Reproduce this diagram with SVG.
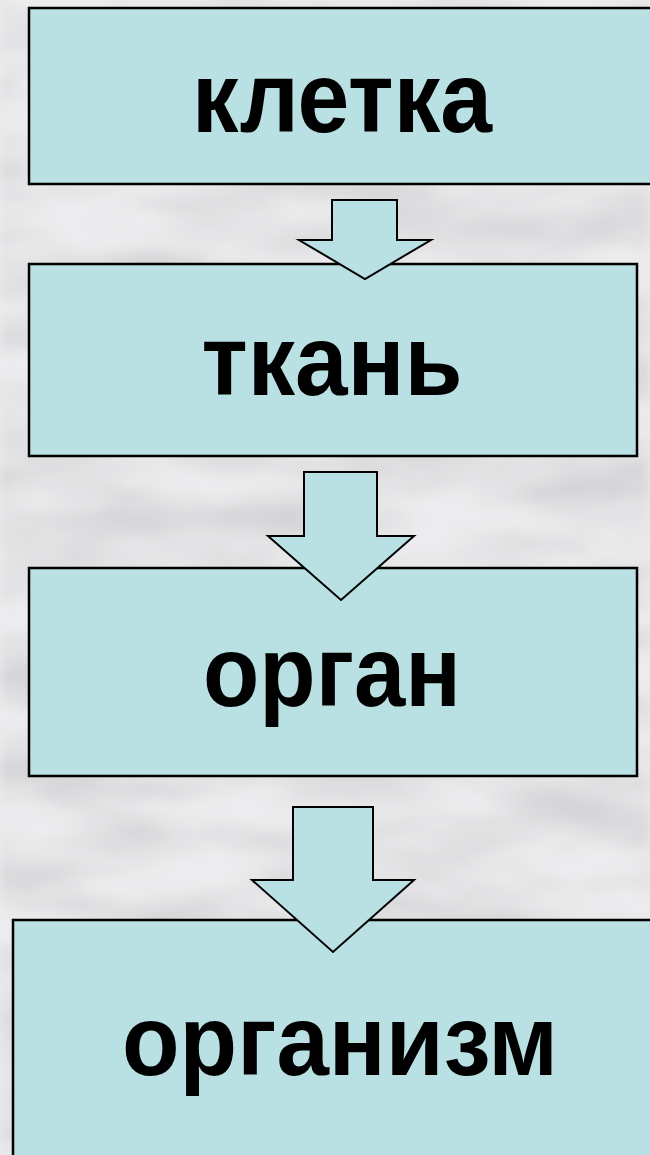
<svg xmlns="http://www.w3.org/2000/svg" width="650" height="1155" viewBox="0 0 650 1155">
<defs>
<style>
.box{fill:#B9E0E3;stroke:#000;stroke-width:2.5}
.arr{fill:#B9E0E3;stroke:#000;stroke-width:2;stroke-linejoin:miter}
.lbl{font-family:"Liberation Sans",Arial,sans-serif;font-weight:bold;font-size:100px;fill:#000;text-anchor:middle}
</style>
<filter id="marble" x="0" y="0" width="100%" height="100%">
<feTurbulence type="fractalNoise" baseFrequency="0.006 0.02" numOctaves="4" seed="7" result="n"/>
<feColorMatrix in="n" type="matrix" values="0 0 0 0 0.6  0 0 0 0 0.6  0 0 0 0 0.62  -1.6 0 0 0 1.05" result="c"/>
<feGaussianBlur in="c" stdDeviation="4" result="b"/>
<feComposite in="b" in2="SourceGraphic" operator="in"/>
</filter>
</defs>
<rect id="bg" x="0" y="0" width="650" height="1155" fill="#ECECEE"/>
<rect x="0" y="0" width="650" height="1155" fill="#ECECEE" filter="url(#marble)"/>
<g id="n1">
<rect class="box" x="29" y="8" width="640" height="176"/>
<text class="lbl" x="342" y="132" textLength="300" lengthAdjust="spacingAndGlyphs">клетка</text>
</g>
<g id="n2">
<rect class="box" x="29" y="264" width="608" height="192"/>
<text class="lbl" x="332" y="395" textLength="261" lengthAdjust="spacingAndGlyphs">ткань</text>
</g>
<g id="n3">
<rect class="box" x="29" y="568" width="608" height="208"/>
<text class="lbl" x="332" y="706" textLength="258" lengthAdjust="spacingAndGlyphs">орган</text>
</g>
<g id="n4">
<rect class="box" x="13" y="920" width="660" height="260"/>
<text class="lbl" x="340" y="1075" textLength="436" lengthAdjust="spacingAndGlyphs">организм</text>
</g>
<g id="connectors">
<polygon class="arr" points="332,200 397,200 397,240 431,240 365,279 299,240 332,240"/>
<polygon class="arr" points="304,472 377,472 377,536 414,536 341,600 268,536 304,536"/>
<polygon class="arr" points="293,807 373,807 373,880 414,880 333,952 252,880 293,880"/>
</g>
</svg>
